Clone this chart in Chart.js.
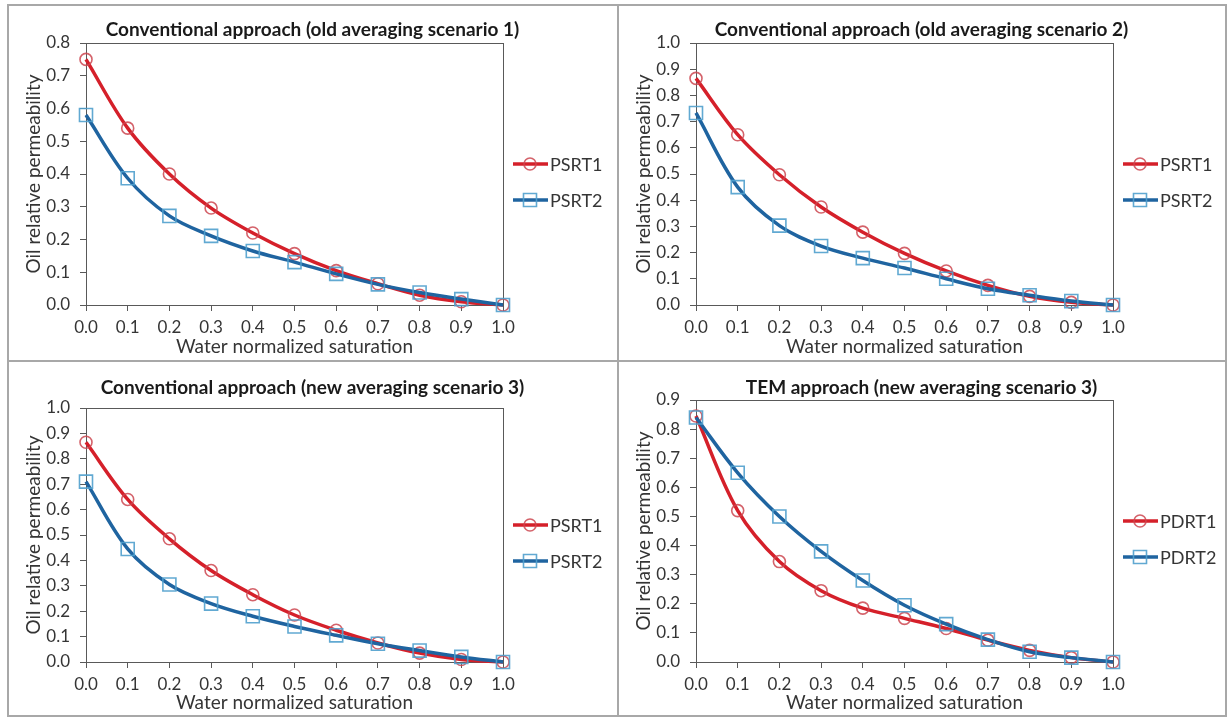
<!DOCTYPE html>
<html>
<head>
<meta charset="utf-8">
<script src="https://cdn.jsdelivr.net/npm/chart.js@4/dist/chart.umd.min.js"></script>
<style>
  body { margin: 0; background: #fff; }
  #wrap { position: relative; width: 1227px; height: 717px; overflow: hidden; }
  canvas { position: absolute; }
  .ln { position: absolute; background: #a8a8a8; z-index: 5; }
</style>
</head>
<body>
<div id="wrap">
  <canvas id="p1" width="609" height="356" style="left:8px;top:5px"></canvas>
  <canvas id="p2" width="607" height="356" style="left:618px;top:5px"></canvas>
  <canvas id="p3" width="609" height="354" style="left:8px;top:362px"></canvas>
  <canvas id="p4" width="607" height="354" style="left:618px;top:362px"></canvas>
  <div class="ln" style="left:7px;top:4px;width:1220px;height:2px"></div>
  <div class="ln" style="left:7px;top:4px;width:2px;height:713px"></div>
  <div class="ln" style="left:617px;top:4px;width:2px;height:713px"></div>
  <div class="ln" style="left:1225px;top:4px;width:2px;height:713px"></div>
  <div class="ln" style="left:7px;top:360px;width:1220px;height:2px"></div>
  <div class="ln" style="left:7px;top:715px;width:1220px;height:2px"></div>
</div>
<script>
// water normalized saturation (x values)
const sat = [0.0, 0.1, 0.2, 0.3, 0.4, 0.5, 0.6, 0.7, 0.8, 0.9, 1.0];

// scenario 1 (old averaging)
const s1Psrt1 = [0.75, 0.54, 0.40, 0.296, 0.22, 0.157, 0.105, 0.065, 0.03, 0.01, 0.0];
const s1Psrt2 = [0.58, 0.387, 0.272, 0.211, 0.165, 0.131, 0.095, 0.063, 0.038, 0.018, 0.0];

// scenario 2 (old averaging)
const s2Psrt1 = [0.865, 0.65, 0.497, 0.374, 0.278, 0.197, 0.13, 0.075, 0.033, 0.01, 0.0];
const s2Psrt2 = [0.733, 0.45, 0.303, 0.225, 0.179, 0.141, 0.1, 0.062, 0.037, 0.015, 0.0];

// scenario 3 (new averaging), conventional
const s3Psrt1 = [0.865, 0.64, 0.485, 0.36, 0.265, 0.185, 0.125, 0.075, 0.035, 0.01, 0.0];
const s3Psrt2 = [0.71, 0.445, 0.305, 0.23, 0.18, 0.14, 0.105, 0.072, 0.045, 0.02, 0.0];

// scenario 3 (new averaging), TEM
const temPdrt1 = [0.845, 0.52, 0.345, 0.245, 0.185, 0.15, 0.115, 0.075, 0.04, 0.015, 0.0];
const temPdrt2 = [0.84, 0.65, 0.50, 0.38, 0.28, 0.195, 0.13, 0.077, 0.035, 0.015, 0.0];

const FONT = "Lato, 'Open Sans', sans-serif";
const TXT = "#353535";
const RED = "#d5202a";
const BLUE = "#1f64a0";

const toXY = vals => vals.map((v, i) => ({x: sat[i], y: v}));

// frame around plot area (Excel style)
const plotFrame = {
    id: "plotFrame",
    beforeDatasetsDraw(chart) {
        const {ctx, chartArea: a} = chart;
        ctx.save();
        ctx.strokeStyle = "#595959";
        ctx.lineWidth = 1;
        ctx.strokeRect(a.left + 0.5, a.top + 0.5, a.right - a.left, a.bottom - a.top);
        ctx.restore();
    }
};

// legend to the right: line + marker + label
const sideLegend = {
    id: "sideLegend",
    afterDraw(chart) {
        const {ctx, chartArea: a} = chart;
        const mid = (a.top + a.bottom) / 2 + 8;
        chart.data.datasets.forEach((ds, i) => {
            const y = mid + (i - 0.5) * 36;
            const x0 = a.right + 10;
            const cx = x0 + 17;
            ctx.save();
            ctx.strokeStyle = ds.borderColor;
            ctx.lineWidth = 3.5;
            ctx.beginPath();
            ctx.moveTo(x0, y);
            ctx.lineTo(x0 + 35, y);
            ctx.stroke();
            ctx.strokeStyle = ds.pointBorderColor;
            ctx.lineWidth = 1.6;
            ctx.beginPath();
            if (ds.pointStyle === "rect") ctx.rect(cx - 6.5, y - 6.5, 13, 13);
            else ctx.arc(cx, y, 6, 0, Math.PI * 2);
            ctx.stroke();
            ctx.fillStyle = TXT;
            ctx.font = "18px " + FONT;
            ctx.textBaseline = "middle";
            ctx.fillText(ds.label, x0 + 37, y + 1);
            ctx.restore();
        });
    }
};

function series(label, vals, color, markColor, style, order) {
    return {
        label: label,
        data: toXY(vals),
        borderColor: color,
        borderWidth: 3.5,
        pointStyle: style,
        pointRadius: style === "rect" ? 9.2 : 6,
        pointBorderWidth: 1.6,
        pointBorderColor: markColor,
        pointBackgroundColor: "rgba(0,0,0,0)",
        tension: 0.35,
        clip: false,
        order: order
    };
}

function panel(id, title, yMax, names, a, b, t) {
    const ctx = document.getElementById(id);
    return new Chart(ctx, {
        type: "line",
        data: {
            datasets: [
                series(names[0], a, RED, "rgba(205,70,80,0.85)", "circle", 1),
                series(names[1], b, BLUE, "rgba(80,160,205,0.9)", "rect", 0)
            ]
        },
        options: {
            responsive: false,
            animation: false,
            layout: { padding: 0 },
            plugins: {
                legend: { display: false },
                tooltip: { enabled: false },
                title: {
                    display: true,
                    text: title,
                    color: "#1a1a1a",
                    font: { family: FONT, size: 19, weight: "bold", lineHeight: 1.2 },
                    padding: { top: t.titleTop, bottom: t.titleBottom }
                }
            },
            scales: {
                x: {
                    type: "linear",
                    min: 0, max: 1,
                    ticks: {
                        stepSize: 0.1, color: TXT, padding: 6.8,
                        font: { family: FONT, size: 17 },
                        callback: v => v.toFixed(1)
                    },
                    grid: { drawOnChartArea: false, tickLength: 6, color: "#595959" },
                    border: { color: "#595959" },
                    title: {
                        display: true, text: "Water normalized saturation", color: TXT,
                        font: { family: FONT, size: 19, lineHeight: 1.2 },
                        padding: { top: 0, bottom: t.xTitleBottom }
                    },
                    afterFit: s => { s.height = t.xHeight; }
                },
                y: {
                    min: 0, max: yMax,
                    ticks: {
                        stepSize: 0.1, color: TXT, padding: 10,
                        font: { family: FONT, size: 17 },
                        callback: v => v.toFixed(1)
                    },
                    grid: { drawOnChartArea: false, tickLength: 6, color: "#595959" },
                    border: { color: "#595959" },
                    title: {
                        display: true, text: "Oil relative permeability", color: TXT,
                        font: { family: FONT, size: 19, lineHeight: 1.2 },
                        padding: { top: 14.6, bottom: 0 }
                    },
                    afterFit: s => { s.width = 78; }
                },
                // empty right axis only keeps room for the legend
                yr: {
                    position: "right",
                    ticks: { display: false },
                    grid: { display: false },
                    border: { display: false },
                    afterFit: s => { s.width = t.rightWidth; }
                }
            }
        },
        plugins: [plotFrame, sideLegend]
    });
}

panel("p1", "Conventional approach (old averaging scenario 1)", 0.8, ["PSRT1", "PSRT2"], s1Psrt1, s1Psrt2,
    {titleTop: 13.6, titleBottom: 1.6, xHeight: 56, xTitleBottom: 2.6, rightWidth: 114});
panel("p2", "Conventional approach (old averaging scenario 2)", 1.0, ["PSRT1", "PSRT2"], s2Psrt1, s2Psrt2,
    {titleTop: 13.6, titleBottom: 1.6, xHeight: 56, xTitleBottom: 2.6, rightWidth: 112});
panel("p3", "Conventional approach (new averaging scenario 3)", 1.0, ["PSRT1", "PSRT2"], s3Psrt1, s3Psrt2,
    {titleTop: 14.6, titleBottom: 8.6, xHeight: 54, xTitleBottom: 1.6, rightWidth: 114});
panel("p4", "TEM approach (new averaging scenario 3)", 0.9, ["PDRT1", "PDRT2"], temPdrt1, temPdrt2,
    {titleTop: 14.6, titleBottom: 0.6, xHeight: 54, xTitleBottom: 1.6, rightWidth: 112});
</script>
</body>
</html>
